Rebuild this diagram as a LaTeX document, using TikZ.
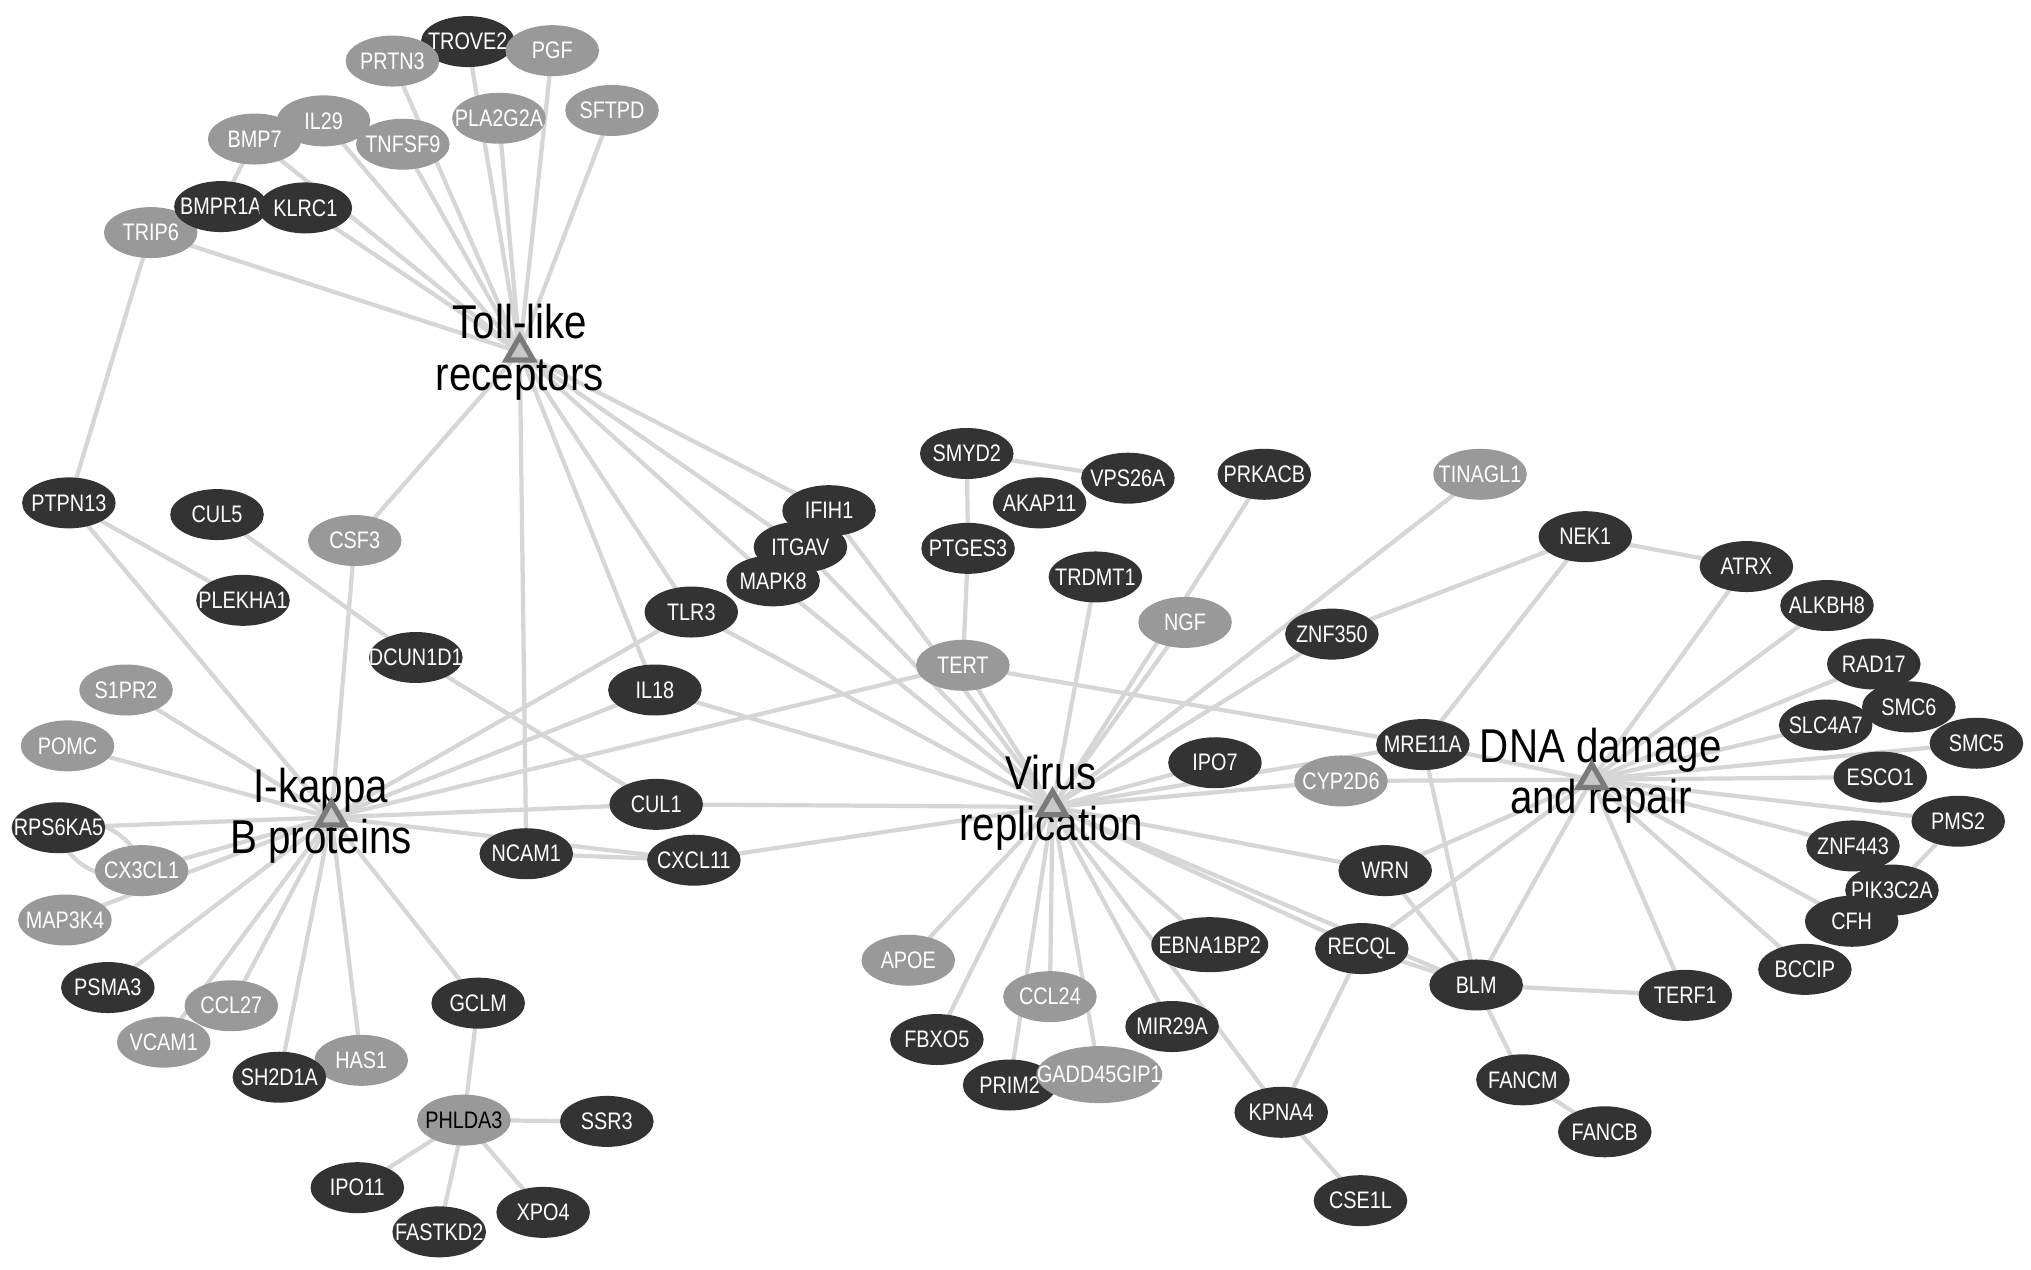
\documentclass[tikz,border=0pt]{standalone}
\usepackage{fontspec}
\newfontfamily\nodefont[FakeStretch=0.83]{Liberation Sans}
\newfontfamily\hubfont[FakeStretch=0.85]{Liberation Sans}
\usetikzlibrary{shapes.geometric,backgrounds}
\definecolor{darkn}{HTML}{333333}
\definecolor{grayn}{HTML}{999999}
\definecolor{edgec}{HTML}{D6D6D6}
\definecolor{trifill}{HTML}{C8C8C8}
\definecolor{tridraw}{HTML}{7A7A7A}
\tikzset{
  gn/.style={ellipse, minimum width=0.936cm, minimum height=0.51cm, inner sep=0pt},
  lbw/.style={inner sep=0pt, text=white, font=\nodefont\fontsize{6.8}{7}\selectfont},
  lbk/.style={lbw, text=black},
  dk/.style={gn, fill=darkn, label={[lbw]center:#1}},
  lt/.style={gn, fill=grayn, label={[lbw]center:#1}},
  ltb/.style={gn, fill=grayn, label={[lbk]center:#1}},
  hubtri/.style={regular polygon, regular polygon sides=3, fill=trifill, draw=tridraw,
    line width=1.5pt, minimum size=0.31cm, inner sep=0pt},
  hublab/.style={align=center, inner sep=0pt, font=\hubfont\fontsize{13.5}{14.6}\selectfont},
  edge/.style={draw=edgec, line width=1.2pt}
}
\begin{document}
\begin{tikzpicture}[x=0.013cm,y=-0.013cm]
\path[use as bounding box] (0,0) rectangle (1563,977);
% Toll-like cluster
\node[dk=TROVE2] (TROVE2) at (360,32) {};
\node[lt=PRTN3] (PRTN3) at (302,47) {};
\node[lt=PGF] (PGF) at (425,39) {};
\node[lt=PLA2G2A] (PLA2G2A) at (384,91) {};
\node[lt=SFTPD] (SFTPD) at (471,85) {};
\node[lt=IL29] (IL29) at (249,93) {};
\node[lt=BMP7] (BMP7) at (196,107) {};
\node[lt=TNFSF9] (TNFSF9) at (310,111) {};
\node[lt=TRIP6] (TRIP6) at (116,179) {};
\node[dk=BMPR1A] (BMPR1A) at (170,159) {};
\node[dk=KLRC1] (KLRC1) at (235,160) {};
% left
\node[dk=PTPN13] (PTPN13) at (53,387) {};
\node[dk=CUL5] (CUL5) at (167,396) {};
\node[lt=CSF3] (CSF3) at (273,416) {};
\node[dk=PLEKHA1] (PLEKHA1) at (187,462) {};
\node[dk=DCUN1D1] (DCUN1D1) at (320,506) {};
\node[lt=S1PR2] (S1PR2) at (97,531) {};
\node[lt=POMC] (POMC) at (52,574) {};
\node[dk=RPS6KA5] (RPS6KA5) at (45,637) {};
\node[lt=CX3CL1] (CX3CL1) at (109,670) {};
\node[lt=MAP3K4] (MAP3K4) at (50,708) {};
\node[dk=PSMA3] (PSMA3) at (83,760) {};
\node[lt=CCL27] (CCL27) at (178,774) {};
\node[lt=VCAM1] (VCAM1) at (126,802) {};
\node[lt=HAS1] (HAS1) at (278,816) {};
\node[dk=SH2D1A] (SH2D1A) at (215,829) {};
\node[dk=GCLM] (GCLM) at (368,772) {};
\node[ltb=PHLDA3] (PHLDA3) at (357,862) {};
\node[dk=SSR3] (SSR3) at (467,863) {};
\node[dk=IPO11] (IPO11) at (275,914) {};
\node[dk=FASTKD2] (FASTKD2) at (338,948) {};
\node[dk=XPO4] (XPO4) at (418,933) {};
% centre
\node[dk=NCAM1] (NCAM1) at (405,657) {};
\node[dk=CUL1] (CUL1) at (505,619) {};
\node[dk=CXCL11] (CXCL11) at (534,662) {};
\node[dk=IL18] (IL18) at (504,531) {};
\node[dk=TLR3] (TLR3) at (532,471) {};
\node[dk=IFIH1] (IFIH1) at (638,393) {};
\node[dk=ITGAV] (ITGAV) at (616,421) {};
\node[dk=MAPK8] (MAPK8) at (595,447) {};
\node[dk=SMYD2] (SMYD2) at (744,349) {};
\node[dk=VPS26A] (VPS26A) at (868,368) {};
\node[dk=AKAP11] (AKAP11) at (800,387) {};
\node[dk=PRKACB] (PRKACB) at (973,365) {};
\node[dk=PTGES3] (PTGES3) at (745,422) {};
\node[dk=TRDMT1] (TRDMT1) at (843,444) {};
\node[lt=NGF] (NGF) at (912,479) {};
\node[lt=TERT] (TERT) at (741,512) {};
\node[dk=ZNF350] (ZNF350) at (1025,488) {};
\node[lt=TINAGL1] (TINAGL1) at (1139,365) {};
\node[dk=IPO7] (IPO7) at (935,587) {};
\node[lt=CYP2D6] (CYP2D6) at (1032,601) {};
\node[dk=MRE11A] (MRE11A) at (1095,573) {};
\node[dk=WRN] (WRN) at (1066,670) {};
\node[dk=RECQL] (RECQL) at (1048,730) {};
\node[dk=EBNA1BP2, minimum width=1.17cm, minimum height=0.55cm] (EBNA1BP2) at (931,727) {};
\node[lt=APOE] (APOE) at (699,739) {};
\node[lt=CCL24] (CCL24) at (808,767) {};
\node[dk=MIR29A] (MIR29A) at (902,790) {};
\node[dk=FBXO5] (FBXO5) at (721,800) {};
\node[dk=PRIM2] (PRIM2) at (777,835) {};
\node[lt=GADD45GIP1, minimum width=1.26cm, minimum height=0.57cm] (GADD45GIP1) at (846,827) {};
\node[dk=KPNA4] (KPNA4) at (986,856) {};
\node[dk=CSE1L] (CSE1L) at (1047,924) {};
\node[dk=BLM] (BLM) at (1136,758) {};
\node[dk=TERF1] (TERF1) at (1297,766) {};
\node[dk=FANCM] (FANCM) at (1172,831) {};
\node[dk=FANCB] (FANCB) at (1235,871) {};
% right
\node[dk=NEK1] (NEK1) at (1220,413) {};
\node[dk=ATRX] (ATRX) at (1344,436) {};
\node[dk=ALKBH8] (ALKBH8) at (1406,466) {};
\node[dk=RAD17] (RAD17) at (1442,511) {};
\node[dk=SMC6] (SMC6) at (1469,544) {};
\node[dk=SLC4A7] (SLC4A7) at (1405,558) {};
\node[dk=SMC5] (SMC5) at (1521,572) {};
\node[dk=ESCO1] (ESCO1) at (1447,598) {};
\node[dk=PMS2] (PMS2) at (1507,632) {};
\node[dk=ZNF443] (ZNF443) at (1426,651) {};
\node[dk=PIK3C2A] (PIK3C2A) at (1456,685) {};
\node[dk=CFH] (CFH) at (1425,709) {};
\node[dk=BCCIP] (BCCIP) at (1389,746) {};
% hubs
\node[hublab] (tollL) at (400,271) {Toll-like\\receptors};
\node[hubtri] (toll) at (400,271) {};
\node[hublab] (ikbL) at (247,628) {I-kappa\\B proteins};
\node[hubtri] (ikb) at (255,629) {};
\node[hublab] (virusL) at (809,618) {Virus\\replication};
\node[hubtri] (virus) at (810,621) {};
\node[hublab] (dnaL) at (1232,597) {DNA damage\\and repair};
\node[hubtri] (dna) at (1225,600) {};
\begin{pgfonlayer}{background}
\fill[white] (0,0) rectangle (1563,977);
\foreach \a/\b in {
  toll/TRIP6, toll/KLRC1, toll/BMP7, toll/IL29, toll/TNFSF9, toll/PRTN3,
  toll/PLA2G2A, toll/TROVE2, toll/PGF, toll/SFTPD, toll/CSF3, toll/NCAM1,
  toll/IL18, toll/TLR3, toll/MAPK8, toll/ITGAV, toll/IFIH1,
  BMP7/BMPR1A, TRIP6/PTPN13,
  ikb/PTPN13, ikb/CSF3, ikb/S1PR2, ikb/POMC, ikb/RPS6KA5, ikb/CX3CL1,
  ikb/MAP3K4, ikb/PSMA3, ikb/CCL27, ikb/VCAM1, ikb/SH2D1A, ikb/HAS1,
  ikb/GCLM, ikb/CXCL11, ikb/CUL1, ikb/IL18, ikb/TLR3, ikb/TERT,
  PTPN13/PLEKHA1, CUL5/DCUN1D1, DCUN1D1/CUL1, NCAM1/CXCL11,
  GCLM/PHLDA3, PHLDA3/SSR3, PHLDA3/IPO11, PHLDA3/FASTKD2, PHLDA3/XPO4,
  virus/CUL1, virus/CXCL11, virus/IL18, virus/TLR3, virus/MAPK8,
  virus/ITGAV, virus/IFIH1, virus/TERT, virus/TRDMT1, virus/NGF,
  virus/PRKACB, virus/ZNF350, virus/TINAGL1, virus/IPO7, virus/CYP2D6,
  virus/MRE11A, virus/WRN, virus/RECQL, virus/BLM, virus/EBNA1BP2,
  virus/KPNA4, virus/MIR29A, virus/GADD45GIP1, virus/CCL24, virus/PRIM2,
  virus/FBXO5, virus/APOE,
  PTGES3/TERT, SMYD2/PTGES3, SMYD2/VPS26A, TERT/MRE11A, NEK1/ZNF350,
  NEK1/MRE11A, NEK1/ATRX, RECQL/KPNA4, KPNA4/CSE1L,
  dna/MRE11A, dna/CYP2D6, dna/WRN, dna/RECQL, dna/BLM, dna/TERF1,
  dna/BCCIP, dna/CFH, dna/ZNF443, dna/PMS2, dna/ESCO1, dna/SMC5,
  dna/SLC4A7, dna/RAD17, dna/ALKBH8, dna/ATRX,
  MRE11A/BLM, WRN/BLM, RECQL/BLM, BLM/TERF1, BLM/FANCM, FANCM/FANCB,
  PMS2/PIK3C2A}
  \draw[edge] (\a.center) -- (\b.center);
\draw[edge] (RPS6KA5.center) to[bend left=55] (CX3CL1.center);
\draw[edge] (RPS6KA5.center) to[bend right=55] (CX3CL1.center);
\end{pgfonlayer}
\end{tikzpicture}
\end{document}
